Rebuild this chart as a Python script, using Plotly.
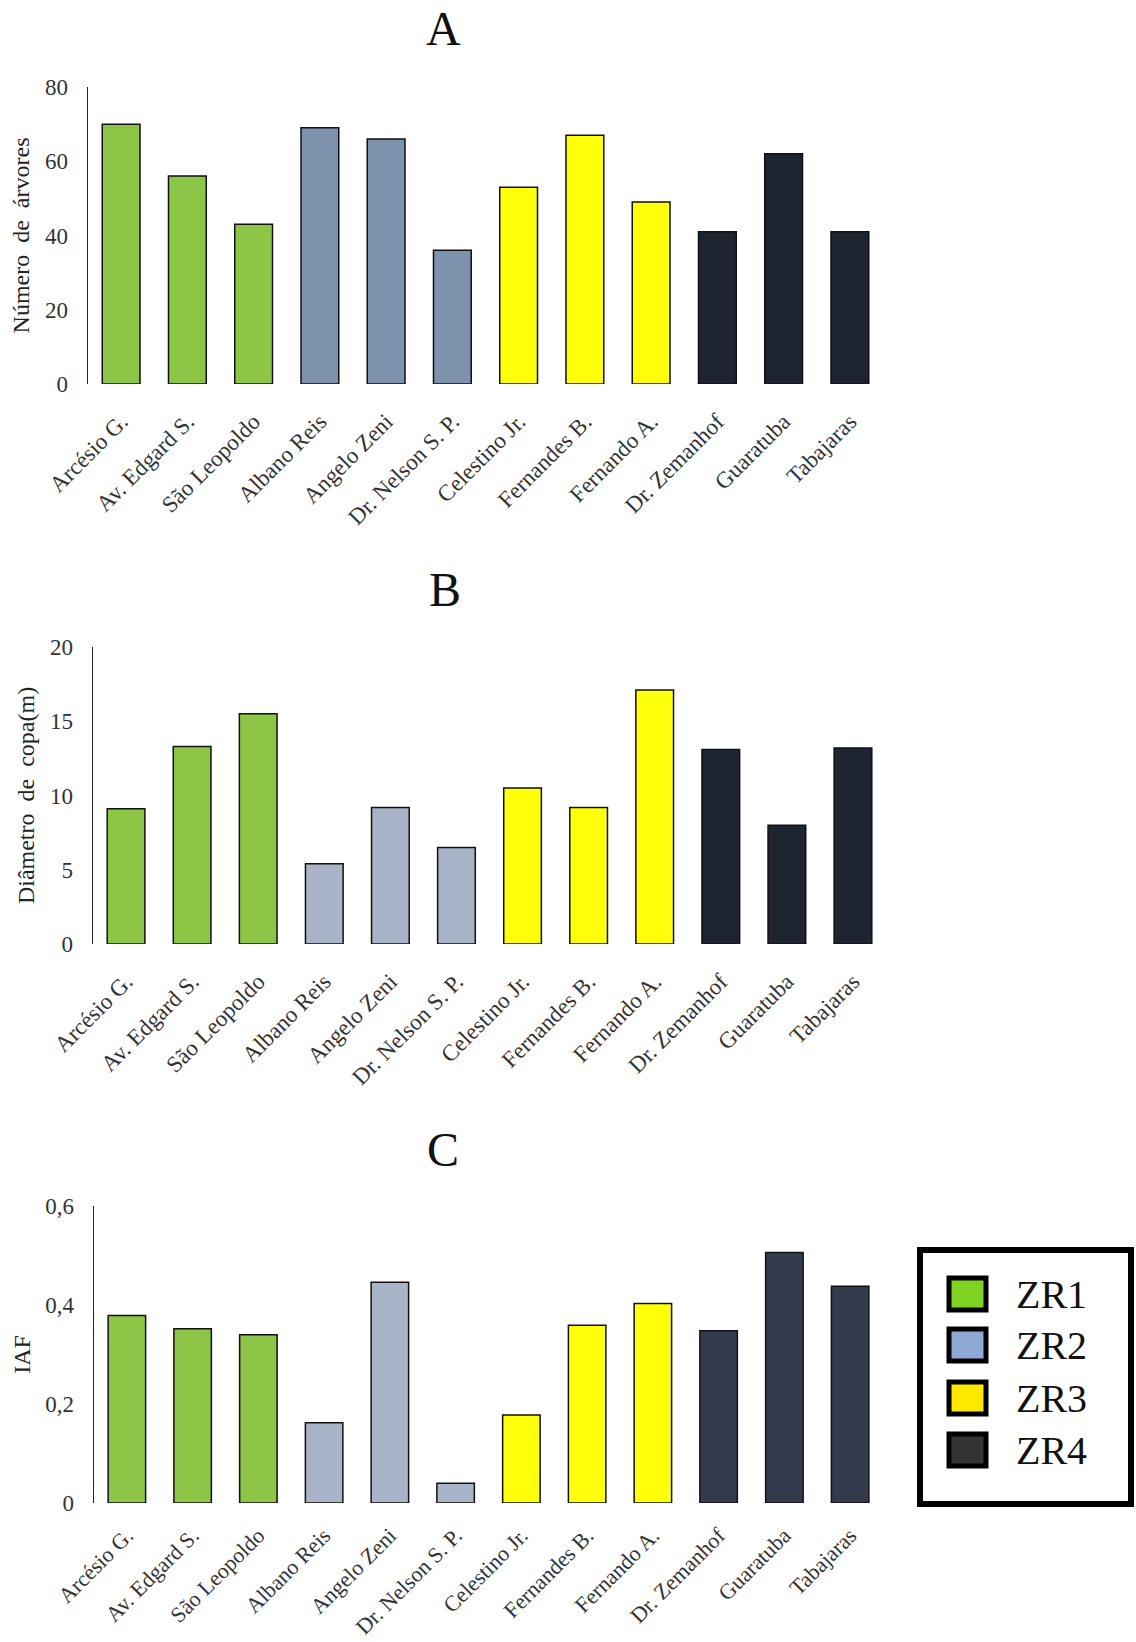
import plotly.graph_objects as go

W, H = 1136, 1642

streets = ["Arcésio G.", "Av. Edgard S.", "São Leopoldo", "Albano Reis", "Angelo Zeni",
           "Dr. Nelson S. P.", "Celestino Jr.", "Fernandes B.", "Fernando A.",
           "Dr. Zemanhof", "Guaratuba", "Tabajaras"]
zones = ["ZR1", "ZR1", "ZR1", "ZR2", "ZR2", "ZR2", "ZR3", "ZR3", "ZR3", "ZR4", "ZR4", "ZR4"]

n_arvores = [70, 56, 43, 69, 66, 36, 53, 67, 49, 41, 62, 41]
diametro_copa = [9.1, 13.3, 15.5, 5.4, 9.2, 6.5, 10.5, 9.2, 17.1, 13.1, 8.0, 13.2]
iaf = [0.379, 0.352, 0.340, 0.162, 0.446, 0.040, 0.178, 0.359, 0.403, 0.348, 0.506, 0.438]

panel_titles = ["A", "B", "C"]
y_titles = ["Número\u00a0 de\u00a0 árvores", "Diâmetro\u00a0 de\u00a0 copa(m)", "IAF"]
y_ticks = [[0, 20, 40, 60, 80], [0, 5, 10, 15, 20], [0, 0.2, 0.4, 0.6]]
y_ticktext = [["0", "20", "40", "60", "80"], ["0", "5", "10", "15", "20"], ["0", "0,2", "0,4", "0,6"]]
y_ranges = [[0, 80], [0, 20], [0, 0.6]]

zone_colors_panel = [
    {"ZR1": "#8DC646", "ZR2": "#7F92AD", "ZR3": "#FFFF0A", "ZR4": "#1F2530"},
    {"ZR1": "#8DC646", "ZR2": "#A9B4C8", "ZR3": "#FFFF0A", "ZR4": "#1F2530"},
    {"ZR1": "#8DC646", "ZR2": "#A9B4C8", "ZR3": "#FFFF0A", "ZR4": "#333C4C"},
]
legend_zones = ["ZR1", "ZR2", "ZR3", "ZR4"]
legend_colors = ["#7ED321", "#8FA9D6", "#FFE800", "#333333"]

# pixel geometry (layout only)
panels_px = [
    dict(x0=88, x1=883, ytop=87, ybot=384, title=(443, 29), ytitle_standoff=8, xfont=23, xlen=14),
    dict(x0=93, x1=886, ytop=647, ybot=944, title=(445, 589), ytitle_standoff=8, xfont=23, xlen=14),
    dict(x0=94, x1=883, ytop=1206, ybot=1503, title=(443, 1149), ytitle_standoff=8, xfont=22, xlen=10),
]

def px_x(x):
    return x / W

def px_y(y):
    return 1 - y / H

FONT = "Liberation Serif, Times New Roman, serif"

fig = go.Figure()
datasets = [n_arvores, diametro_copa, iaf]
for i, (vals, geo) in enumerate(zip(datasets, panels_px)):
    ax = "" if i == 0 else str(i + 1)
    cols = [zone_colors_panel[i][z] for z in zones]
    fig.add_trace(go.Bar(
        x=streets, y=vals, marker=dict(color=cols, line=dict(color="#111111", width=1.5)),
        xaxis="x" + ax, yaxis="y" + ax, showlegend=False, width=0.57,
    ))
    fig.layout["xaxis" + ax] = dict(
        domain=[px_x(geo["x0"]), px_x(geo["x1"])], anchor="y" + ax, automargin=False,
        range=[-0.5, 11.5], tickangle=-45, showline=False, showgrid=False, zeroline=False,
        ticks="outside", ticklen=geo["xlen"], tickcolor="rgba(0,0,0,0)",
        tickfont=dict(family=FONT, size=geo["xfont"], color="#333333"), fixedrange=True,
    )
    fig.layout["yaxis" + ax] = dict(
        domain=[px_y(geo["ybot"]), px_y(geo["ytop"])], anchor="x" + ax, automargin=False,
        range=y_ranges[i], tickvals=y_ticks[i], ticktext=y_ticktext[i],
        showline=True, linecolor="#222222", linewidth=1.5, showgrid=False, zeroline=False,
        ticks="outside", ticklen=14, tickcolor="rgba(0,0,0,0)",
        tickfont=dict(family=FONT, size=23, color="#333333"),
        title=dict(text=y_titles[i], font=dict(family=FONT, size=24, color="#222222"),
                   standoff=geo["ytitle_standoff"]),
        fixedrange=True,
    )
    tx, ty = geo["title"]
    fig.add_annotation(text=panel_titles[i], x=px_x(tx), y=px_y(ty), xref="paper", yref="paper",
                       showarrow=False, font=dict(family=FONT, size=48, color="#111111"),
                       xanchor="center", yanchor="middle")

# manual legend box
shapes = [dict(type="rect", xref="paper", yref="paper",
               x0=px_x(920), x1=px_x(1131), y0=px_y(1504), y1=px_y(1250),
               line=dict(color="#000000", width=6), fillcolor="white")]
leg_y = [1294, 1345, 1398, 1450]
for z, c, yc in zip(legend_zones, legend_colors, leg_y):
    shapes.append(dict(type="rect", xref="paper", yref="paper",
                       x0=px_x(949), x1=px_x(986), y0=px_y(yc + 16), y1=px_y(yc - 16),
                       line=dict(color="#000000", width=5), fillcolor=c))
    fig.add_annotation(text=z, x=px_x(1014), y=px_y(yc), xref="paper", yref="paper",
                       showarrow=False, xanchor="left", yanchor="middle",
                       font=dict(family=FONT, size=40, color="#111111"))
fig.update_layout(shapes=shapes)

fig.update_layout(
    width=W, height=H, margin=dict(l=0, r=0, t=0, b=0),
    paper_bgcolor="white", plot_bgcolor="white", showlegend=False,
    bargap=0.43, hovermode=False,
)
fig.write_html("out.html", config={"displayModeBar": False, "staticPlot": True},
               post_script="document.body.style.margin='0';")
